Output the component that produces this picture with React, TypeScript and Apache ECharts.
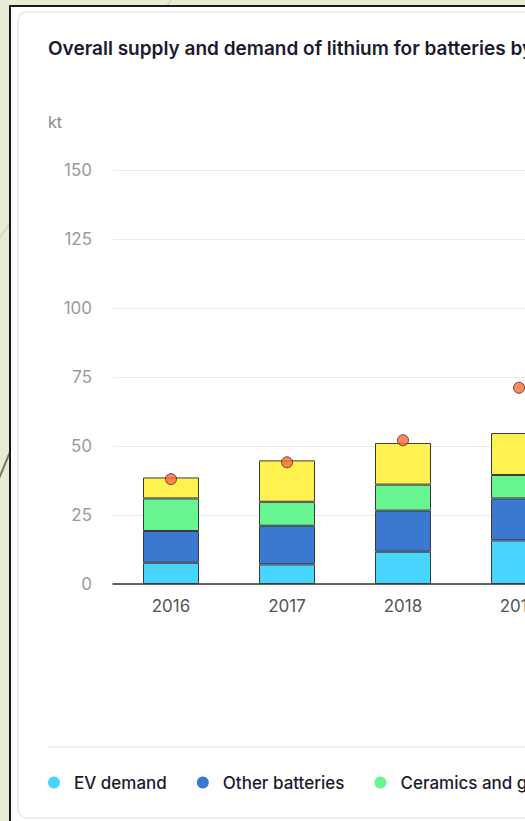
import React, { useEffect, useRef } from "react";
import * as echarts from "echarts";

const years = ["2016", "2017", "2018", "2019", "2020", "2021", "2022"];
const evDemand = [7.7, 7.1, 11.7, 15.8, 24, 46, 76];
const otherBatteries = [11.5, 14.0, 14.9, 15.2, 14, 17, 20];
const ceramicsGlass = [11.8, 8.7, 9.4, 8.5, 9, 10, 11];
const otherUses = [7.6, 15.0, 15.1, 15.2, 15, 17, 20];
const supply = [38.0, 44.1, 52.1, 71.1, 82, 107, 146];

const yTicks = { min: 0, max: 150, interval: 25 };

const FONT = "Inter, 'Noto Sans', sans-serif";

export default function App() {
  const ref = useRef<HTMLDivElement>(null);

  useEffect(() => {
    if (!ref.current) return;
    const chart = echarts.init(ref.current, null, { renderer: "svg" });
    const barStyle = (color: string) => ({
      color,
      borderColor: "#3a3a3a",
      borderWidth: 1,
    });
    chart.setOption({
      animation: false,
      title: {
        text: "Overall supply and demand of lithium for batteries by sector, 2016-2022",
        left: 29,
        top: 27,
        padding: 0,
        textStyle: {
          fontFamily: FONT,
          fontSize: 19,
          fontWeight: 600,
          color: "#1b1b2f",
        },
      },
      grid: { left: 94, top: 158, width: 812, height: 414 },
      xAxis: {
        type: "category",
        data: years,
        axisLine: { lineStyle: { color: "#333", width: 1.5 } },
        axisTick: { length: 13, lineStyle: { color: "#333", width: 1.5 } },
        axisLabel: { margin: 13, color: "#555", fontSize: 17, fontFamily: FONT },
      },
      yAxis: {
        type: "value",
        min: yTicks.min,
        max: yTicks.max,
        interval: yTicks.interval,
        axisLine: { show: false },
        axisTick: { show: false },
        axisLabel: { margin: 21, color: "#9a9a9a", fontSize: 17, fontFamily: FONT },
        splitLine: { lineStyle: { color: "#ebebeb", width: 1 } },
      },
      legend: {
        left: 29,
        top: 762,
        padding: 0,
        icon: "circle",
        itemWidth: 12,
        itemHeight: 12,
        itemGap: 30,
        itemStyle: { borderWidth: 0 },
        textStyle: {
          fontFamily: FONT,
          fontSize: 17,
          fontWeight: 500,
          color: "#1b1b2f",
          padding: [0, 0, 0, 9],
        },
        data: ["EV demand", "Other batteries", "Ceramics and glass", "Other uses", "Supply"],
      },
      graphic: [
        {
          type: "text",
          x: 29,
          y: 110,
          style: {
            text: "kt",
            fill: "#888",
            font: `16px ${FONT}`,
            verticalAlign: "middle",
          },
        },
        {
          type: "line",
          shape: { x1: 29, y1: 735, x2: 1000, y2: 735 },
          style: { stroke: "#e8e8e8", lineWidth: 1.5 },
        },
      ],
      series: [
        { name: "EV demand", type: "bar", stack: "d", barWidth: 56, data: evDemand, itemStyle: barStyle("#47d4fd") },
        { name: "Other batteries", type: "bar", stack: "d", barWidth: 56, data: otherBatteries, itemStyle: barStyle("#3b78d2") },
        { name: "Ceramics and glass", type: "bar", stack: "d", barWidth: 56, data: ceramicsGlass, itemStyle: barStyle("#66f591") },
        { name: "Other uses", type: "bar", stack: "d", barWidth: 56, data: otherUses, itemStyle: barStyle("#fff250") },
        {
          name: "Supply",
          type: "scatter",
          data: supply,
          symbol: "circle",
          symbolSize: 11,
          z: 10,
          itemStyle: { color: "#ff6a3a", borderColor: "#3a2a2a", borderWidth: 1 },
        },
      ],
    });
    return () => chart.dispose();
  }, []);

  return (
    <div
      style={{
        position: "fixed",
        left: 0,
        top: 0,
        width: 525,
        height: 821,
        overflow: "hidden",
        background: "#e8ecd4",
      }}
    >
      <svg width={525} height={821} style={{ position: "absolute", left: 0, top: 0 }}>
        <line x1={-20} y1={265} x2={200} y2={-40} stroke="#d4d8c4" strokeWidth={2} />
        <line x1={-10} y1={500} x2={20} y2={428} stroke="#7c735c" strokeWidth={2} />
      </svg>
      <div
        style={{
          position: "absolute",
          left: 9,
          top: 5,
          width: 1200,
          height: 1200,
          border: "2px solid #1a1a1a",
          background: "#ffffff",
        }}
      />
      <div
        style={{
          position: "absolute",
          left: 17,
          top: 11,
          width: 1100,
          height: 804,
          border: "2px solid #ececec",
          borderRadius: 10,
          background: "#ffffff",
        }}
      />
      <div
        ref={ref}
        style={{ position: "absolute", left: 19, top: 12, width: 1000, height: 800 }}
      />
    </div>
  );
}
